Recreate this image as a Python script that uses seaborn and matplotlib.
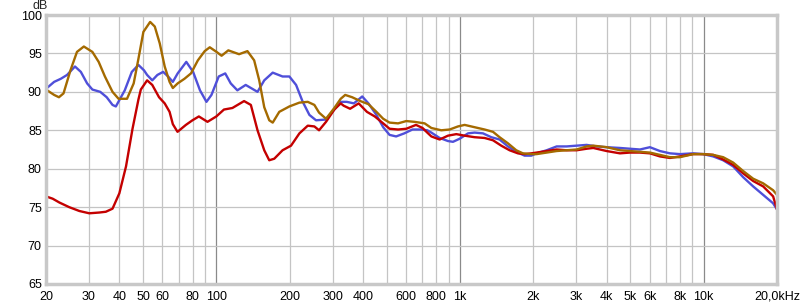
import numpy as np
import pandas as pd
import matplotlib
matplotlib.use("Agg")
import matplotlib.pyplot as plt
import seaborn as sns

# ---- data ----
blue_freq = [20, 21.6, 23.0, 24.4, 26.3, 27.8, 29.5, 31.0, 33.4, 35.5, 37.5, 38.7, 42.1, 45.0, 47.9, 50.5,
             52, 54.6, 57.3, 60.5, 63.4, 66.3, 69.4, 75.3, 80.3, 85.7, 91.1, 95.5, 102.3, 108.8, 114.6, 122,
             132, 147.6, 157.3, 170.4, 187, 199.4, 212.5, 226.3, 241, 256.6, 282, 305, 324, 343, 367, 397,
             421, 454, 484, 514, 547, 591, 638, 692, 734, 763, 825, 893, 936, 997, 1079, 1148, 1243, 1344,
             1454, 1574, 1702, 1841, 1961, 2063, 2268, 2493, 2739, 3011, 3310, 3638, 3999, 4534, 4983,
             5477, 6019, 6615, 7270, 7990, 9058, 9956, 10943, 12025, 13216, 14525, 15963, 17544, 19281, 20000]
blue_db = [90.4, 91.3, 91.7, 92.2, 93.3, 92.6, 91.1, 90.3, 90.0, 89.3, 88.3, 88.1, 90.2, 92.6, 93.5, 92.8,
           92.2, 91.5, 92.2, 92.6, 92.0, 91.3, 92.4, 93.9, 92.6, 90.2, 88.7, 89.6, 92.0, 92.4, 91.1, 90.2,
           90.9, 90.0, 91.5, 92.5, 92.0, 92.0, 90.9, 88.7, 87.0, 86.3, 86.4, 87.7, 88.7, 88.7, 88.5, 89.4,
           88.5, 87.0, 85.4, 84.4, 84.2, 84.6, 85.1, 85.1, 85.0, 84.7, 84.0, 83.6, 83.5, 83.9, 84.6, 84.7, 84.6, 84.1,
           83.8, 82.9, 82.2, 81.7, 81.7, 82.0, 82.4, 82.9, 82.9, 83.0, 83.1, 82.9, 82.8, 82.7, 82.6,
           82.5, 82.8, 82.3, 82.0, 81.9, 82.0, 81.9, 81.6, 81.1, 80.3, 78.9, 77.7, 76.6, 75.5, 74.7]

red_freq = [20, 21.3, 22.7, 24.9, 27.4, 30.1, 33.1, 35.2, 37.5, 40, 42.6, 45.3, 47.9, 49, 52, 54.6, 58.2,
            61.4, 64.3, 66.3, 69.3, 75, 79.8, 84.8, 92, 100, 107.5, 116.4, 130, 138.6, 147.6, 157.3, 164.9,
            172.9, 187, 202.6, 219.3, 237.3, 252.6, 264, 282, 305, 324, 333, 354, 384, 415, 447, 484, 514,
            557, 602, 660, 702, 734, 763, 825, 893, 966, 1045, 1148, 1262, 1366, 1477, 1598, 1729, 1841,
            1961, 2063, 2268, 2493, 2739, 3011, 3310, 3524, 3999, 4534, 4983, 5477, 6019, 6615, 7270, 7990,
            9058, 9956, 10943, 12025, 13216, 14525, 15963, 17544, 19281, 20000]
red_db = [76.4, 76.1, 75.6, 75.0, 74.5, 74.2, 74.3, 74.4, 74.8, 76.8, 80.3, 85.2, 89.0, 90.3, 91.5, 90.9, 89.3,
          88.5, 87.4, 85.8, 84.8, 85.7, 86.3, 86.8, 86.1, 86.8, 87.7, 87.9, 88.8, 88.3, 85.0, 82.4, 81.1,
          81.3, 82.4, 83.0, 84.6, 85.6, 85.5, 85.0, 86.1, 87.7, 88.5, 88.2, 87.8, 88.5, 87.4, 86.8, 85.9, 85.2,
          85.1, 85.2, 85.7, 85.3, 84.7, 84.2, 83.8, 84.3, 84.5, 84.3, 84.1, 84.0, 83.7, 83.0, 82.4, 82.0, 81.9,
          82.0, 82.1, 82.3, 82.5, 82.4, 82.4, 82.6, 82.7, 82.3, 82.0, 82.1, 82.1, 82.0, 81.6, 81.4, 81.6,
          81.9, 81.9, 81.8, 81.2, 80.5, 79.4, 78.4, 77.7, 76.4, 74.7]

gold_freq = [20, 21.6, 22.6, 23.6, 25.2, 26.8, 28.6, 31.0, 32.9, 34.9, 37.5, 39.7, 43.0, 45.8, 47.9, 50.2,
             53.5, 55.9, 58.6, 61.4, 64.3, 66.3, 69.4, 74.0, 78.7, 84.0, 89.6, 94.0, 100.2, 105.1, 112, 124,
             134.2, 143, 150, 157.3, 164.9, 170.4, 181.3, 199.4, 219.3, 237.3, 252.6, 264, 282, 305, 324, 338,
             361, 390, 421, 454, 484, 514, 557, 602, 650, 716, 763, 838, 907, 981, 1045, 1148, 1262, 1366,
             1454, 1574, 1702, 1812, 1961, 2063, 2268, 2493, 2739, 3011, 3310, 3524, 3999, 4534, 4983, 5477,
             6019, 6615, 7270, 7990, 9058, 9956, 10943, 12025, 13216, 14525, 15963, 17544, 19281, 20000]
gold_db = [90.3, 89.6, 89.3, 89.8, 92.8, 95.2, 95.9, 95.2, 93.9, 92.0, 90.0, 89.1, 89.1, 91.1, 94.3, 97.8,
           99.1, 98.5, 96.3, 93.3, 91.3, 90.5, 91.1, 91.7, 92.4, 94.1, 95.3, 95.8, 95.2, 94.7, 95.4, 94.9,
           95.3, 94.1, 91.5, 88.0, 86.3, 86.0, 87.4, 88.1, 88.6, 88.7, 88.3, 87.3, 86.5, 87.9, 89.1, 89.6,
           89.3, 88.8, 88.4, 87.4, 86.5, 86.0, 85.9, 86.2, 86.1, 85.9, 85.3, 85.0, 85.1, 85.5, 85.7, 85.4, 85.1, 84.8,
           84.1, 83.3, 82.4, 82.0, 81.9, 81.9, 82.1, 82.3, 82.4, 82.5, 82.9, 83.0, 82.8, 82.4, 82.3, 82.2,
           82.1, 81.8, 81.5, 81.5, 81.9, 81.9, 81.8, 81.5, 80.8, 79.7, 78.7, 78.1, 77.2, 76.6]

grid_freqs = [20, 30, 40, 50, 60, 70, 80, 90, 100, 200, 300, 400, 500, 600, 700, 800, 900,
              1000, 2000, 3000, 4000, 5000, 6000, 7000, 8000, 9000, 10000, 20000]
tick_labels = ["20", "30", "40", "50", "60", "", "80", "", "100", "200", "300", "400", "", "600", "",
               "800", "", "1k", "2k", "3k", "4k", "5k", "6k", "", "8k", "", "10k", "20,0kHz"]
y_ticks = [65, 70, 75, 80, 85, 90, 95, 100]

# ---- figure ----
sns.set_theme(style="white")
plt.rcParams['font.family'] = ['Liberation Sans', 'DejaVu Sans']

fig = plt.figure(figsize=(8.0, 3.05), dpi=100)
ax = fig.add_axes([46 / 800, 1 - 284 / 305, (777 - 46) / 800, (284 - 15) / 305])

for freq, db, col in [(blue_freq, blue_db, "#4f4fd9"),
                      (red_freq, red_db, "#c40000"),
                      (gold_freq, gold_db, "#a46a00")]:
    sns.lineplot(x=freq, y=db, ax=ax, color=col, linewidth=1.7, estimator=None, sort=False,
                 solid_joinstyle="round", solid_capstyle="round")

ax.set_xscale("log")
ax.set_xlim(20, 20000)
ax.set_ylim(65, 100)
ax.set_xticks(grid_freqs)
ax.set_xticklabels(tick_labels)
ax.xaxis.set_minor_locator(matplotlib.ticker.NullLocator())
ax.set_yticks(y_ticks)
ax.set_yticklabels([str(v) for v in y_ticks])
ax.tick_params(axis="both", length=0, labelsize=9, colors="#000000")
ax.tick_params(axis="x", pad=5)
ax.tick_params(axis="y", pad=3)

ax.grid(True, which="major", color="#c4c4c4", linewidth=0.9)
ax.set_axisbelow(True)
for gl, f in zip(ax.get_xgridlines(), grid_freqs):
    if f in (100, 1000, 10000):
        gl.set_color("#8a8a8a")

for sp in ax.spines.values():
    sp.set_visible(True)
    sp.set_color("#c8c8c8")
    sp.set_linewidth(2.5)

ax.set_xlabel("")
ax.set_ylabel("")
fig.text(40 / 800, 1 - 6 / 305, "dB", ha="center", va="center", fontsize=9)

fig.savefig("out.png", dpi=100)
